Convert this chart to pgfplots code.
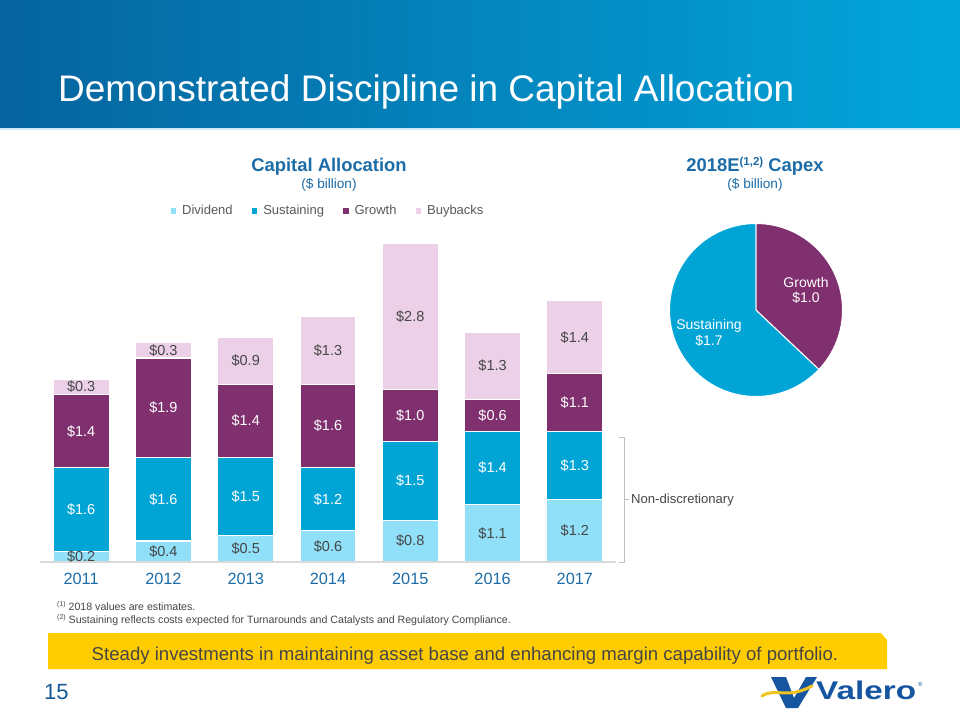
\documentclass[border=0pt]{standalone}
\usepackage{pgfplots}
\pgfplotsset{compat=1.18}
\usepackage{pgfplotstable}
\usepackage{graphicx}
\usepackage{fontspec}
\setmainfont{Liberation Sans}
\pgfplotsset{/pgf/number format/assume math mode=true}

\definecolor{cDiv}{RGB}{143,224,248}
\definecolor{cSus}{RGB}{0,165,214}
\definecolor{cGro}{RGB}{128,48,110}
\definecolor{cBuy}{RGB}{236,208,232}
\definecolor{hdrL}{RGB}{6,100,158}
\definecolor{hdrR}{RGB}{2,166,219}
\definecolor{ttl}{RGB}{28,108,168}
\definecolor{txt}{RGB}{70,70,70}
\definecolor{lgtxt}{RGB}{89,89,89}
\definecolor{banner}{RGB}{255,204,0}
\definecolor{axgray}{RGB}{217,217,217}
\definecolor{brk}{RGB}{191,191,191}
\definecolor{logob}{RGB}{22,86,160}
\definecolor{logoy}{RGB}{240,196,30}
\definecolor{pgnum}{RGB}{24,90,150}

\newcommand\fs[1]{\fontsize{#1}{#1}\selectfont}

\pgfplotstableread{
x D S G B
0 0.2 1.6 1.4 0.3
1 0.4 1.6 1.9 0.3
2 0.5 1.5 1.4 0.9
3 0.6 1.2 1.6 1.3
4 0.8 1.5 1.0 2.8
5 1.1 1.4 0.6 1.3
6 1.2 1.3 1.1 1.4
}\capdata

% 2018E capex pie values ($ billion)
\def\pieG{1.0}
\def\pieS{1.7}

\newcommand\getrow[1]{%
  \pgfplotstablegetelem{#1}{D}\of\capdata \let\valD\pgfplotsretval
  \pgfplotstablegetelem{#1}{S}\of\capdata \let\valS\pgfplotsretval
  \pgfplotstablegetelem{#1}{G}\of\capdata \let\valG\pgfplotsretval
  \pgfplotstablegetelem{#1}{B}\of\capdata \let\valB\pgfplotsretval}

\begin{document}
\begin{tikzpicture}
\useasboundingbox (0pt,0pt) rectangle (960pt,-720pt);
\fill[white] (0pt,0pt) rectangle (960pt,-720pt);

\begin{scope}[x=1pt,y=1pt]
% header
\shade[left color=hdrL, right color=hdrR] (0,0) rectangle (960,-128);
\fill[color={rgb,255:red,205;green,236;blue,248}] (0,-128) rectangle (960,-130);
\node[anchor=base west, inner sep=0, text=white, font=\fs{37}] at (58,-101) {Demonstrated Discipline in Capital Allocation};

% chart titles
\node[anchor=base, inner sep=0, text=ttl, font=\bfseries\fs{18.4}] at (329,-171) {Capital Allocation};
\node[anchor=base, inner sep=0, text=ttl, font=\fs{13.6}] at (329,-188) {(\$ billion)};
\node[anchor=base, inner sep=0, text=ttl, font=\bfseries\fs{18.4}] at (755,-171) {2018E\raisebox{6pt}{\fs{11.5}(1,2)} Capex};
\node[anchor=base, inner sep=0, text=ttl, font=\fs{13.6}] at (755,-188) {(\$ billion)};
\end{scope}

% stacked bars
\begin{axis}[
  at={(40pt,-562pt)}, anchor=south west,
  scale only axis, width=576pt, height=319pt,
  xmin=-0.5, xmax=6.5, ymin=0, ymax=6.1,
  enlargelimits=false,
  ybar stacked, bar width=56pt,
  axis x line*=bottom, axis y line=none,
  ytick=\empty,
  xtick={0,1,2,3,4,5,6},
  xticklabels={2011,2012,2013,2014,2015,2016,2017},
  major tick length=0pt,
  x axis line style={draw=axgray, line width=1.5pt},
  x tick label style={font=\fs{16.3}, text=ttl, yshift=-7.5pt},
  legend columns=4,
  legend style={at={(0.5,1)}, anchor=center, yshift=32pt, draw=none, fill=none,
    font=\fs{13}, text=lgtxt, inner sep=0pt,
    /tikz/every odd column/.append style={column sep=4pt},
    /tikz/every even column/.append style={column sep=17pt}},
  legend image code/.code={\fill[#1,draw=none] (0pt,-2.8pt) rectangle (5.6pt,2.8pt);},
]
\addplot[fill=cDiv, draw=white, line width=1.2pt] table[x=x,y=D]{\capdata};
\addlegendentry{Dividend}
\addplot[fill=cSus, draw=white, line width=1.2pt] table[x=x,y=S]{\capdata};
\addlegendentry{Sustaining}
\addplot[fill=cGro, draw=white, line width=1.2pt] table[x=x,y=G]{\capdata};
\addlegendentry{Growth}
\addplot[fill=cBuy, draw=white, line width=1.2pt] table[x=x,y=B]{\capdata};
\addlegendentry{Buybacks}

\coordinate (bl) at (axis cs:-0.5,0);
\coordinate (br) at (axis cs:6.5,0);
% label anchor points: middle of each segment, from the table
\pgfplotsinvokeforeach{0,...,6}{%
  \getrow{#1}%
  \pgfmathsetmacro\yD{\valD/2}%
  \pgfmathsetmacro\yS{\valD+\valS/2}%
  \pgfmathsetmacro\yG{\valD+\valS+\valG/2}%
  \pgfmathsetmacro\yB{\valD+\valS+\valG+\valB/2}%
  \edef\tmp{%
    \noexpand\coordinate (pD#1) at (axis cs:#1,\yD);
    \noexpand\coordinate (pS#1) at (axis cs:#1,\yS);
    \noexpand\coordinate (pG#1) at (axis cs:#1,\yG);
    \noexpand\coordinate (pB#1) at (axis cs:#1,\yB);
  }%
  \tmp
}
\end{axis}
\draw[axgray, line width=1.5pt] (bl) -- (br);

% pie
\begin{axis}[
  at={(756pt,-310pt)}, anchor=center,
  scale only axis, width=173pt, height=173pt,
  xmin=-1, xmax=1, ymin=-1, ymax=1,
  hide axis, clip=false,
]
\fill[cSus, draw=white, line width=1pt] (0,0) -- (0,1) arc[start angle=90, delta angle={360*\pieS/(\pieG+\pieS)}, radius=86.5pt] -- cycle;
\fill[cGro, draw=white, line width=1pt] (0,0) -- (0,1) arc[start angle=90, delta angle={-360*\pieG/(\pieG+\pieS)}, radius=86.5pt] -- cycle;
\end{axis}

\begin{scope}[x=1pt,y=1pt]
% bar value labels
\foreach \i in {0,...,6}{%
  \getrow{\i}%
  \node[anchor=center, inner sep=0, text=txt, font=\color{txt}\fs{14.5}] at (pD\i) {\$\valD};
  \node[anchor=center, inner sep=0, text=white, font=\color{white}\fs{14.5}] at (pS\i) {\$\valS};
  \node[anchor=center, inner sep=0, text=white, font=\color{white}\fs{14.5}] at (pG\i) {\$\valG};
  \node[anchor=center, inner sep=0, text=txt, font=\color{txt}\fs{14.5}] at (pB\i) {\$\valB};
}

\node[anchor=base, inner sep=0, text=white, font=\fs{14}] at (806,-287) {Growth};
\node[anchor=base, inner sep=0, text=white, font=\fs{14}] at (806,-302) {\$\pieG};
\node[anchor=base, inner sep=0, text=white, font=\fs{14}] at (709,-329) {Sustaining};
\node[anchor=base, inner sep=0, text=white, font=\fs{14}] at (709,-345) {\$\pieS};

% bracket
\draw[brk, line width=1pt] (619,-437) -- (624,-437) -- (624,-562) -- (619,-562);
\draw[brk, line width=1pt] (624,-499) -- (629,-499);
\node[anchor=base west, inner sep=0, text=txt, font=\fs{13.1}] at (631,-503.5) {Non-discretionary};

% footnotes
\node[anchor=base west, inner sep=0, text=txt, font=\fs{10.6}] at (57,-610) {\raisebox{3.5pt}{\fs{7}(1)} 2018 values are estimates.};
\node[anchor=base west, inner sep=0, text=txt, font=\fs{10.6}] at (57,-623) {\raisebox{3.5pt}{\fs{7}(2)} Sustaining reflects costs expected for Turnarounds and Catalysts and Regulatory Compliance.};

% banner
\fill[banner] (48,-633) -- (881,-633) -- (887,-640) -- (887,-669) -- (48,-669) -- cycle;
\node[anchor=base, inner sep=0, text=txt, font=\fs{18.6}] at (465,-660) {Steady investments in maintaining asset base and enhancing margin capability of portfolio.};

% page number
\node[anchor=base west, inner sep=0, text=pgnum, font=\fs{22}] at (44,-699) {15};

% logo
\fill[logob] (771,-677) -- (786,-677) -- (794,-698) -- (806,-677) -- (817,-677) -- (798,-708) -- (786,-708) -- cycle;
\draw[logoy, line width=3pt, line cap=round] (762,-696) .. controls (776,-687) and (786,-700) .. (812,-686);
\node[anchor=base west, inner sep=0, text=logob, font=\bfseries\fs{25.6}] at (816,-699) {\scalebox{1.3}[1]{Valero}};
\node[anchor=base west, inner sep=0, text=logob, font=\fs{6}] at (918,-686) {\textregistered};
\end{scope}
\end{tikzpicture}
\end{document}
